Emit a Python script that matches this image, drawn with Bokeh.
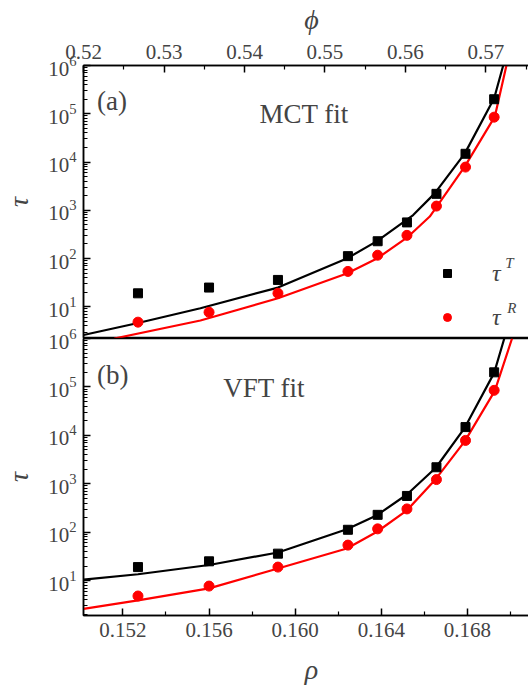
from bokeh.plotting import figure
from bokeh.models import (Range1d, LinearAxis, FixedTicker, Legend, LegendItem, Label,
                          PrintfTickFormatter)
from bokeh.layouts import column
from bokeh.embed import file_html
from bokeh.resources import INLINE

# ---- data ----
rho = [0.1527, 0.1560, 0.1592, 0.16245, 0.16383, 0.16519, 0.16656, 0.16791, 0.16924]
tau_T = [19, 25, 36, 112, 228, 560, 2190, 14800, 2.0e5]
tau_R = [4.8, 7.7, 19, 54, 117, 302, 1220, 7850, 8.5e4]

mct_T_rho = [0.15017, 0.1527, 0.1556, 0.1592, 0.1624, 0.1638, 0.16548, 0.16648, 0.16788, 0.16924, 0.16966]
mct_T_tau = [2.6, 4.6, 9.3, 25, 100, 229, 794, 2240, 15100, 2.09e5, 1e6]
mct_R_rho = [0.1516, 0.1556, 0.1592, 0.1624, 0.1638, 0.16519, 0.16625, 0.16788, 0.16927, 0.16981]
mct_R_tau = [2.2, 5.2, 15, 49, 100, 270, 741, 8130, 8.7e4, 1e6]

vft_T_rho = [0.15017, 0.1527, 0.1560, 0.1592, 0.1624, 0.1638, 0.16519, 0.16653, 0.16788, 0.16924, 0.16971]
vft_T_tau = [10.5, 13.5, 21, 38, 115, 224, 600, 2140, 14500, 1.95e5, 1e6]
vft_R_rho = [0.15017, 0.1527, 0.1560, 0.1592, 0.1624, 0.1638, 0.16519, 0.16648, 0.16788, 0.16927, 0.17007]
vft_R_tau = [2.6, 3.9, 6.9, 17.8, 46, 102, 282, 1175, 7600, 8.3e4, 1e6]

rho_ticks = [0.152, 0.156, 0.160, 0.164, 0.168]
rho_minor = [0.150, 0.154, 0.158, 0.162, 0.166, 0.170]
phi_ticks = [0.52, 0.53, 0.54, 0.55, 0.56, 0.57]
phi_minor = [0.525, 0.535, 0.545, 0.555, 0.565, 0.575]
tau_ticks = [10, 100, 1e3, 1e4, 1e5, 1e6]
tau_minor = [m * 10 ** e for e in range(0, 6) for m in range(2, 10)]

RHO_RANGE = (0.15017, 0.171346)
PHI_RANGE = (0.51999, 0.57666)

FONT = "Liberation Serif"
FRAME_W = 456   # frame runs past the right edge of the window, as in the cropped original
JOIN = 12       # extra (transparent) top border of panel (b), pulled up under panel (a)


def style_axis(ax):
    ax.major_tick_in = 7
    ax.major_tick_out = 0
    ax.minor_tick_in = 4
    ax.minor_tick_out = 0
    ax.axis_line_width = 1.5
    ax.major_tick_line_width = 1.5
    ax.minor_tick_line_width = 1.2
    ax.major_label_text_font = FONT
    ax.major_label_text_font_size = "21px"
    ax.major_label_standoff = 7
    ax.axis_label_text_font = FONT
    ax.axis_label_text_font_style = "italic"
    ax.axis_label_text_font_size = "28px"


def make_fig(frame_h, yr, top_border, bottom_border):
    p = figure(frame_width=FRAME_W, frame_height=frame_h, y_axis_type="log",
               x_range=Range1d(*RHO_RANGE), y_range=Range1d(*yr),
               x_axis_location=None, output_backend="svg", toolbar_location=None,
               min_border_left=0, min_border_right=0,
               min_border_top=top_border, min_border_bottom=bottom_border)
    p.extra_x_ranges = {"phi": Range1d(*PHI_RANGE)}
    p.grid.visible = False
    p.outline_line_color = "black"
    p.outline_line_width = 1.5
    p.background_fill_color = "white"
    p.border_fill_color = "white"
    ya = p.yaxis[0]
    ya.ticker = FixedTicker(ticks=tau_ticks, minor_ticks=tau_minor)
    ya.axis_label = "τ"
    style_axis(ya)
    ya.axis_label_standoff = 11
    return p


def add_curves(p, cT_r, cT_t, cR_r, cR_t):
    p.line(cT_r, cT_t, line_color="black", line_width=2.2)
    p.line(cR_r, cR_t, line_color="#ff0000", line_width=2.2)
    sq = p.scatter(rho, tau_T, marker="square", size=9, fill_color="black", line_color="black")
    ci = p.scatter(rho, tau_R, marker="circle", size=10, fill_color="#ff0000", line_color="#ff0000")
    return sq, ci


# ---- top panel (a) MCT ----
p1 = make_fig(273, (2.2, 1e6), 61, 0)
phi_ax = LinearAxis(x_range_name="phi", axis_label="ϕ",
                    ticker=FixedTicker(ticks=phi_ticks, minor_ticks=phi_minor),
                    formatter=PrintfTickFormatter(format="%.2f"))
style_axis(phi_ax)
phi_ax.axis_label_standoff = 7
p1.add_layout(phi_ax, "above")
sq, ci = add_curves(p1, mct_T_rho, mct_T_tau, mct_R_rho, mct_R_tau)

legend = Legend(items=[LegendItem(label="τ", renderers=[sq]), LegendItem(label="τ", renderers=[ci])],
                location=(354, 7), glyph_width=20, glyph_height=28, label_height=28,
                spacing=16, padding=0, margin=0, label_standoff=35,
                label_text_font=FONT, label_text_font_style="italic",
                label_text_font_size="24px", border_line_color=None,
                background_fill_alpha=0)
p1.add_layout(legend, "center")
p1.add_layout(Label(x=0.16976, y=82, text="T", text_font=FONT, text_font_style="italic",
                    text_font_size="15px", text_baseline="alphabetic"))
p1.add_layout(Label(x=0.16985, y=9.6, text="R", text_font=FONT, text_font_style="italic",
                    text_font_size="15px", text_baseline="alphabetic"))
p1.add_layout(Label(x=0.15080, y=1.8e5, text="(a)", text_font=FONT, text_font_size="27px",
                    text_baseline="alphabetic"))
p1.add_layout(Label(x=0.15834, y=9.7e4, text="MCT fit", text_font=FONT, text_font_size="27px",
                    text_baseline="alphabetic"))

# ---- bottom panel (b) VFT ----
p2 = make_fig(277, (1.9, 1e6), JOIN, 0)
p2.border_fill_alpha = 0
p2.styles = {"margin-top": f"-{JOIN}px"}
rho_ax = LinearAxis(axis_label="ρ", ticker=FixedTicker(ticks=rho_ticks, minor_ticks=rho_minor),
                    formatter=PrintfTickFormatter(format="%.3f"))
style_axis(rho_ax)
rho_ax.axis_label_standoff = 14
p2.add_layout(rho_ax, "below")
add_curves(p2, vft_T_rho, vft_T_tau, vft_R_rho, vft_R_tau)
p2.add_layout(Label(x=0.15080, y=1.8e5, text="(b)", text_font=FONT, text_font_size="27px",
                    text_baseline="alphabetic"))
p2.add_layout(Label(x=0.15666, y=9.7e4, text="VFT fit", text_font=FONT, text_font_size="27px",
                    text_baseline="alphabetic"))

layout = column(p1, p2, spacing=0)
open("out.html", "w").write(file_html(layout, INLINE))
